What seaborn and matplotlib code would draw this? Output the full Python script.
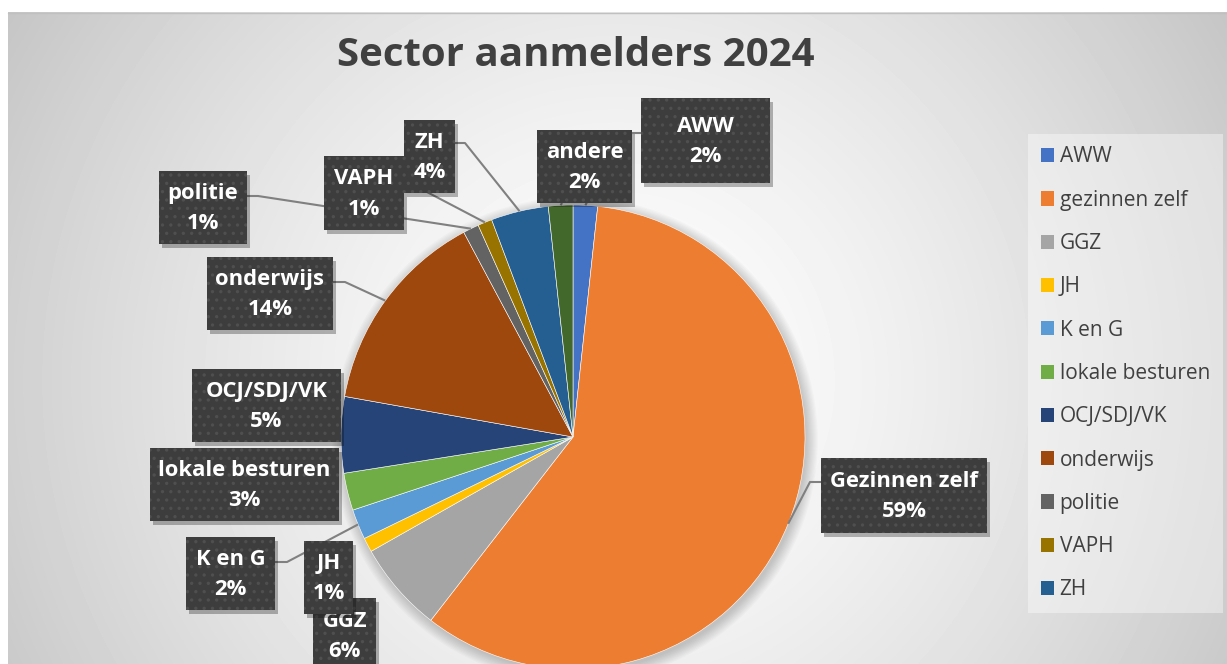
import numpy as np
import matplotlib
matplotlib.use("Agg")
import matplotlib.pyplot as plt
from matplotlib.patches import Rectangle, Circle
import seaborn as sns

# Data, clockwise from the top
sectors = ["AWW", "gezinnen zelf", "GGZ", "JH", "K en G", "lokale besturen",
           "OCJ/SDJ/VK", "onderwijs", "politie", "VAPH", "ZH", "andere"]
label_names = ["AWW", "Gezinnen zelf", "GGZ", "JH", "K en G", "lokale besturen",
               "OCJ/SDJ/VK", "onderwijs", "politie", "VAPH", "ZH", "andere"]
shares = [1.7, 58.8, 6.3, 1.0, 2.1, 2.6, 5.3, 14.4, 1.1, 1.0, 4.0, 1.7]
colors = ["#4472C4", "#ED7D31", "#A5A5A5", "#FFC000", "#5B9BD5", "#70AD47",
          "#264478", "#9E480E", "#636363", "#997300", "#255E91", "#43682B"]
legend_items = sectors[:11]

# label boxes (pixel layout): x0, y0, w, h, leader anchor, elbow
boxes = {
    "AWW": (641, 98, 129, 85, (641, 133), (622, 133)),
    "Gezinnen zelf": (821, 458, 166, 75, (821, 482), (810, 482)),
    "GGZ": (313, 598, 63, 75, None, None),
    "JH": (304, 541, 49, 73, None, None),
    "K en G": (186, 537, 89, 73, (275, 562), (287, 562)),
    "lokale besturen": (150, 448, 189, 73, None, None),
    "OCJ/SDJ/VK": (192, 369, 149, 73, None, None),
    "onderwijs": (207, 257, 126, 73, (333, 282), (345, 282)),
    "politie": (159, 171, 88, 73, (247, 196), (258, 196)),
    "VAPH": (324, 156, 80, 74, (404, 180), None),
    "ZH": (404, 120, 51, 73, (455, 143), (465, 143)),
    "andere": (537, 130, 95, 73, (562, 203), None),
}
draw_order = ["AWW", "andere", "VAPH", "ZH", "politie", "onderwijs", "OCJ/SDJ/VK",
              "lokale besturen", "K en G", "GGZ", "JH", "Gezinnen zelf"]

sns.set_theme(style="white")
plt.rcParams["font.family"] = ["Open Sans", "DejaVu Sans"]
plt.rcParams["hatch.linewidth"] = 1.2

W, H = 1227, 664
fig = plt.figure(figsize=(W / 100, H / 100), dpi=100)
fig.patch.set_facecolor("white")
ax = fig.add_axes([0, 0, 1, 1])

# radial gradient background of the chart area
yy, xx = np.mgrid[12:H, 8:W]
d = np.hypot(xx - 617, yy - 380) / 720
bg = 1 - 0.23 * np.clip(d, 0, 1.2) ** 1.4
ax.imshow(bg, cmap="gray", vmin=0, vmax=1, extent=(8, W, H, 12),
          interpolation="bilinear", zorder=0)
ax.plot([8, W], [12.5, 12.5], color="#c0c0c0", lw=1, zorder=1)

cx, cy, r = 573, 437, 232
# soft shadow around the pie
for k in range(10):
    ax.add_patch(Circle((cx + 2, cy + 3), r + k * 1.2, color="black",
                        alpha=0.018, lw=0, zorder=2))

wedges, _ = ax.pie(shares, colors=colors, startangle=-90, counterclock=True,
                   center=(cx, cy), radius=r,
                   wedgeprops=dict(edgecolor="white", linewidth=0.4))
for w in wedges:
    w.set_zorder(3)

# leader lines
for name, w in zip(label_names, wedges):
    x0, y0, bw, bh, anchor, elbow = boxes[name]
    if anchor is None:
        continue
    mid = np.deg2rad((w.theta1 + w.theta2) / 2)
    rim = (cx + r * np.cos(mid), cy + r * np.sin(mid))
    pts = [anchor] + ([elbow] if elbow else []) + [rim]
    ax.plot([p[0] for p in pts], [p[1] for p in pts], color="#808080",
            lw=1.5, zorder=4, solid_capstyle="butt")

# label boxes
pct = {n: f"{round(s):.0f}%" for n, s in zip(label_names, shares)}
for i, name in enumerate(draw_order):
    x0, y0, bw, bh, anchor, elbow = boxes[name]
    z = 5 + i * 0.1
    ax.add_patch(Rectangle((x0 + 3, y0 + 4), bw, bh, color="black", alpha=0.28,
                           lw=0, zorder=z))
    ax.add_patch(Rectangle((x0, y0), bw, bh, facecolor="#3d3d3d",
                           edgecolor="#4f4f4f", hatch="..", lw=0, zorder=z + 0.01))
    ax.text(x0 + bw / 2, y0 + bh / 2 + 1, f"{name}\n{pct[name]}", color="white",
            fontsize=15.8, fontweight="bold", ha="center", va="center",
            linespacing=1.6, zorder=z + 0.02)

ax.text(576, 55, "Sector aanmelders 2024", fontsize=29, fontweight="bold",
        color="#404040", ha="center", va="center", zorder=6)

leg = ax.legend(wedges[:11], legend_items, loc="upper left",
                bbox_to_anchor=(1028 / W, 1 - 134 / H), bbox_transform=fig.transFigure,
                frameon=True, fancybox=False, fontsize=15, labelspacing=1.07,
                handlelength=0.67, handleheight=0.67, handletextpad=0.25,
                borderpad=0.6, borderaxespad=0, labelcolor="#404040")
leg.get_frame().set_facecolor("white")
leg.get_frame().set_alpha(0.4)
leg.get_frame().set_linewidth(0)
leg.set_zorder(10)
for h in leg.legend_handles:
    h.set_edgecolor("none")

ax.set_xlim(0, W)
ax.set_ylim(H, 0)
ax.set_aspect("auto")
ax.axis("off")

fig.savefig("out.png", dpi=100)
